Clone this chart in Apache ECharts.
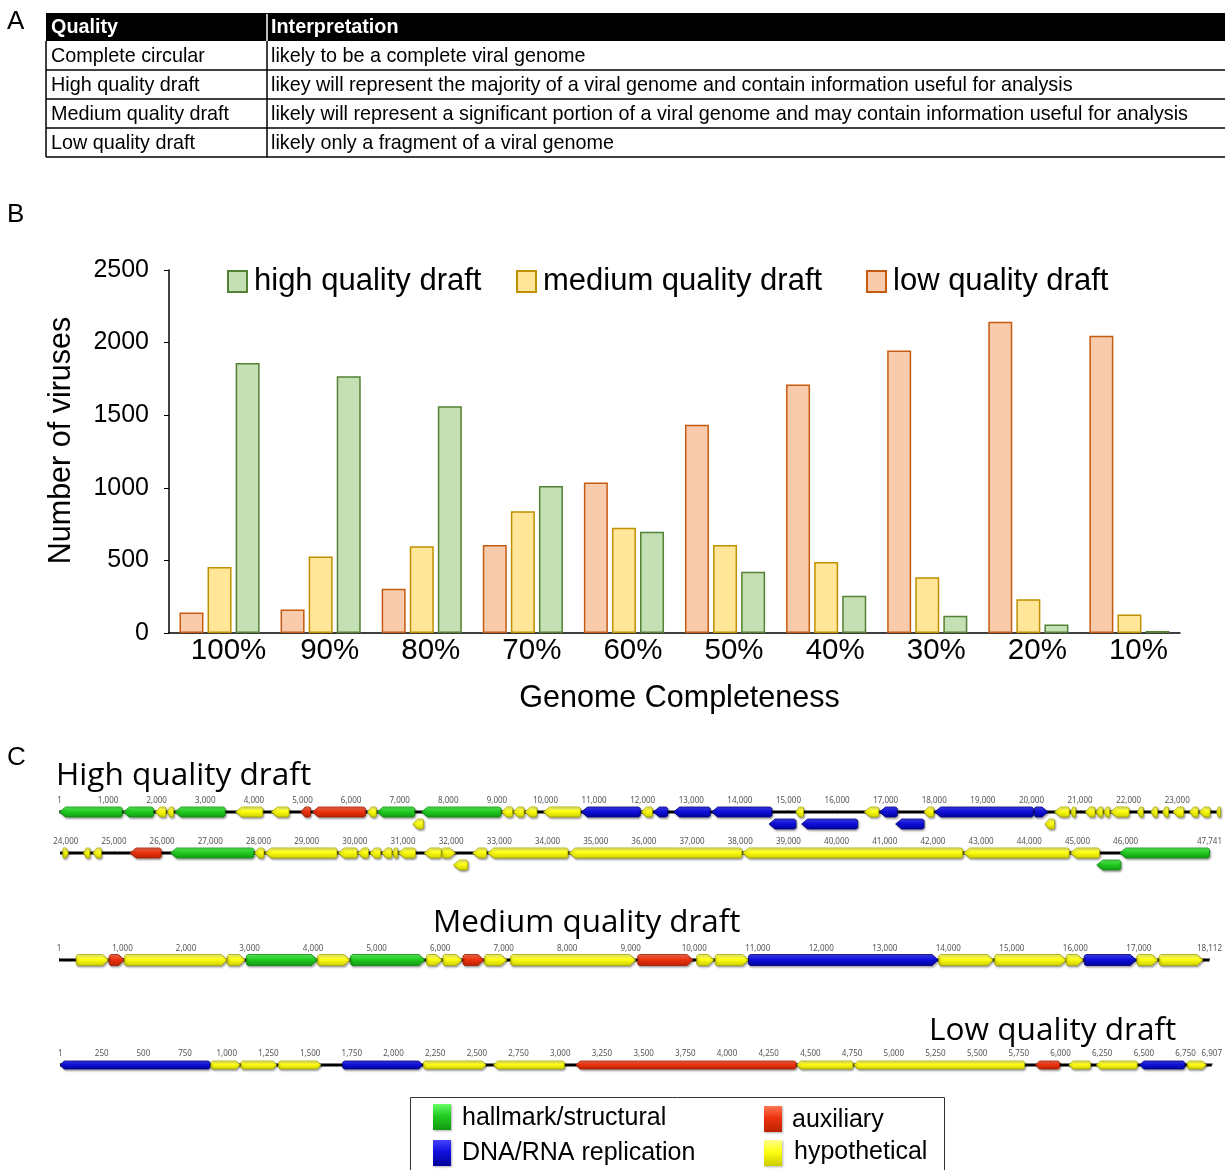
<!DOCTYPE html>
<html>
<head>
<meta charset="utf-8">
<script src="https://cdn.jsdelivr.net/npm/echarts@6/dist/echarts.min.js"></script>
<style>
  html, body { margin: 0; padding: 0; background: #fff; }
  #main { width: 1225px; height: 1170px; }
</style>
</head>
<body>
<div id="main"></div>
<script>
// ---- Panel A: quality table ----
const tableHeader = ['Quality', 'Interpretation'];
const qualityNames = ['Complete circular', 'High quality draft', 'Medium quality draft', 'Low quality draft'];
const interpretations = [
  'likely to be a complete viral genome',
  'likey will represent the majority of a viral genome and contain information useful for analysis',
  'likely will represent a significant portion of a viral genome and may contain information useful for analysis',
  'likely only a fragment of a viral genome'
];

// ---- Panel B: completeness histogram ----
const categories = ['100%', '90%', '80%', '70%', '60%', '50%', '40%', '30%', '20%', '10%'];
const lowDraft = [142, 162, 304, 606, 1036, 1434, 1711, 1946, 2143, 2047];
const mediumDraft = [455, 526, 597, 839, 725, 606, 489, 384, 233, 128];
const highDraft = [1860, 1768, 1562, 1013, 698, 421, 256, 119, 59, 14];
const yTicks = [0, 500, 1000, 1500, 2000, 2500];

// ---- Panel C: genome maps ----
// gene: [start, end, strand (1 fwd / -1 rev), category, lane]
// category: 0 hallmark/structural, 1 DNA/RNA replication, 2 auxiliary, 3 hypothetical
const highLength = 47741;
const highSplit = 23890;
const highGenes = [
  [1, 1290, -1, 0, 0], [1315, 1935, -1, 0, 0], [1975, 2190, -1, 3, 0], [2215, 2350, -1, 3, 0],
  [2375, 3410, -1, 0, 0], [3625, 4185, -1, 3, 0], [4360, 4725, -1, 3, 0], [4965, 5165, -1, 2, 0],
  [5205, 6295, -1, 2, 0], [6335, 6520, -1, 3, 0], [6535, 7310, -1, 0, 0], [7270, 7490, -1, 3, 1],
  [7450, 9085, -1, 0, 0], [9100, 9325, -1, 3, 0], [9340, 9560, -1, 3, 0], [9580, 9825, -1, 3, 0],
  [9960, 10720, -1, 3, 0], [10740, 11950, -1, 1, 0], [11975, 12200, -1, 3, 0], [12220, 12515, -1, 1, 0],
  [12635, 13390, -1, 1, 0], [13420, 14660, -1, 1, 0], [14600, 15155, -1, 1, 1], [15150, 15310, -1, 3, 0],
  [15270, 16425, -1, 1, 1], [16560, 16860, -1, 3, 0], [16875, 17240, -1, 1, 0], [17205, 17790, -1, 1, 1],
  [17790, 17990, -1, 3, 0], [18010, 20040, -1, 1, 0], [20060, 20340, 1, 1, 0], [20275, 20475, -1, 3, 1],
  [20475, 20780, -1, 3, 0], [20810, 20910, -1, 3, 0], [21110, 21310, -1, 3, 0], [21330, 21470, -1, 3, 0],
  [21490, 21610, -1, 3, 0], [21625, 22010, -1, 3, 0], [22180, 22300, -1, 3, 0], [22460, 22595, -1, 3, 0],
  [22700, 22820, -1, 3, 0], [22915, 23135, -1, 3, 0], [23255, 23430, -1, 3, 0], [23455, 23675, -1, 3, 0],
  [23810, 23890, -1, 3, 0],
  [23940, 24055, 1, 3, 0], [24370, 24500, -1, 3, 0], [24565, 24740, -1, 3, 0], [25335, 25980, -1, 2, 0],
  [26175, 27905, -1, 0, 0], [27920, 28115, -1, 3, 0], [28140, 29630, -1, 3, 0], [29655, 30050, -1, 3, 0],
  [30065, 30285, -1, 3, 0], [30315, 30535, -1, 3, 0], [30560, 30770, -1, 3, 0], [30785, 30890, -1, 3, 0],
  [30905, 31260, -1, 3, 0], [31440, 31795, -1, 3, 0], [31810, 32090, 1, 3, 0], [32045, 32345, -1, 3, 1],
  [32445, 32735, -1, 3, 0], [32760, 34425, -1, 3, 0], [34450, 38035, -1, 3, 0], [38050, 42620, -1, 3, 0],
  [42640, 44830, -1, 3, 0], [44855, 45460, -1, 3, 0], [45400, 45900, -1, 0, 1], [45880, 47741, -1, 0, 0]
];
const mediumLength = 18112;
const mediumGenes = [
  [270, 780, 1, 3, 0], [790, 1030, 1, 2, 0], [1030, 2650, 1, 3, 0], [2650, 2930, 1, 3, 0],
  [2950, 4070, 1, 0, 0], [4070, 4580, 1, 3, 0], [4590, 5760, 1, 0, 0], [5785, 6030, 1, 3, 0],
  [6045, 6345, 1, 3, 0], [6360, 6690, 1, 2, 0], [6700, 7050, 1, 3, 0], [7110, 9080, 1, 3, 0],
  [9110, 9980, 1, 2, 0], [10040, 10310, 1, 3, 0], [10330, 10855, 1, 3, 0], [10855, 13840, 1, 1, 0],
  [13850, 14710, 1, 3, 0], [14730, 15855, 1, 3, 0], [15855, 16125, 1, 3, 0], [16140, 16960, 1, 1, 0],
  [16970, 17300, 1, 3, 0], [17320, 18010, 1, 3, 0]
];
const lowLength = 6907;
const lowGenes = [
  [1, 900, -1, 1, 0], [905, 1080, 1, 3, 0], [1085, 1300, 1, 3, 0], [1310, 1565, 1, 3, 0],
  [1695, 2175, 1, 1, 0], [2180, 2555, 1, 3, 0], [2600, 3025, -1, 3, 0], [3095, 4414, -1, 2, 0],
  [4418, 4755, -1, 3, 0], [4760, 5785, -1, 3, 0], [5850, 5995, -1, 2, 0], [6050, 6180, -1, 3, 0],
  [6215, 6460, -1, 3, 0], [6475, 6745, -1, 1, 0], [6760, 6875, 1, 3, 0]
];
const highTicksRow1 = [1, 1000, 2000, 3000, 4000, 5000, 6000, 7000, 8000, 9000, 10000, 11000, 12000,
  13000, 14000, 15000, 16000, 17000, 18000, 19000, 20000, 21000, 22000, 23000];
const highTicksRow2 = [24000, 25000, 26000, 27000, 28000, 29000, 30000, 31000, 32000, 33000, 34000, 35000,
  36000, 37000, 38000, 39000, 40000, 41000, 42000, 43000, 44000, 45000, 46000, 47741];
const mediumTicks = [1, 1000, 2000, 3000, 4000, 5000, 6000, 7000, 8000, 9000, 10000, 11000, 12000,
  13000, 14000, 15000, 16000, 17000, 18112];
const lowTicks = [1, 250, 500, 750, 1000, 1250, 1500, 1750, 2000, 2250, 2500, 2750, 3000, 3250, 3500,
  3750, 4000, 4250, 4500, 4750, 5000, 5250, 5500, 5750, 6000, 6250, 6500, 6750, 6907];
const geneCategoryNames = ['hallmark/structural', 'DNA/RNA replication', 'auxiliary', 'hypothetical'];

// gene fill gradients (top -> bottom) and outlines per category
const geneColors = [
  { stops: ['#66ff66', '#22cc22', '#119911'], line: '#0f8a0f' },
  { stops: ['#4444ff', '#1111dd', '#000099'], line: '#00007a' },
  { stops: ['#ff7755', '#ee3311', '#bb2200'], line: '#a01c00' },
  { stops: ['#ffff88', '#ffff11', '#cccc00'], line: '#a3a300' }
];
function gradient(c) {
  return {
    type: 'linear', x: 0, y: 0, x2: 0, y2: 1,
    colorStops: [{ offset: 0, color: c.stops[0] }, { offset: 0.45, color: c.stops[1] }, { offset: 1, color: c.stops[2] }]
  };
}

function geneRenderer(source, height, headLen) {
  return function (params, api) {
    const g = source[params.dataIndex];
    const p0 = api.coord([g[0], g[4]]);
    const p1 = api.coord([g[1], g[4]]);
    const x0 = p0[0], x1 = p1[0], y = p0[1];
    const w = x1 - x0;
    const h = height / 2;
    const head = Math.min(headLen, w * 0.45);
    const bev = Math.min(1.5, w * 0.1);
    let pts;
    if (g[2] > 0) {
      pts = [[x0 + bev, y - h], [x1 - head, y - h], [x1, y], [x1 - head, y + h], [x0 + bev, y + h], [x0, y + h - bev], [x0, y - h + bev]];
    } else {
      pts = [[x0, y], [x0 + head, y - h], [x1 - bev, y - h], [x1, y - h + bev], [x1, y + h - bev], [x1 - bev, y + h], [x0 + head, y + h]];
    }
    const c = geneColors[g[3]];
    return {
      type: 'polygon',
      shape: { points: pts },
      style: {
        fill: gradient(c), stroke: c.line, lineWidth: 0.8,
        shadowBlur: 2, shadowOffsetX: 1, shadowOffsetY: 1.5, shadowColor: 'rgba(0,0,0,0.35)'
      }
    };
  };
}

const highRow1 = highGenes.filter(g => g[0] < highSplit);
const highRow2 = highGenes.filter(g => g[0] >= highSplit);

const fmt = v => (v === 1 ? '1' : v.toLocaleString('en-US'));

function mapXAxis(gridIndex, min, max, ticks) {
  return {
    type: 'value', gridIndex, min, max, position: 'top',
    axisLine: { show: false },
    splitLine: { show: false },
    axisTick: { show: true, length: 2, customValues: ticks, lineStyle: { color: '#999', width: 1 } },
    axisLabel: {
      show: true, customValues: ticks, formatter: fmt, margin: 1, hideOverlap: false,
      fontSize: 8, color: '#555', fontFamily: 'Noto Sans'
    }
  };
}
function mapYAxis(gridIndex) {
  return { type: 'value', gridIndex, min: -0.5, max: 1.5, inverse: true, show: false };
}
function backbone(idx, from, to) {
  return {
    type: 'line', xAxisIndex: idx, yAxisIndex: idx, data: [[from, 0], [to, 0]],
    symbol: 'none', silent: true, z: 2, lineStyle: { color: '#000', width: 3 }
  };
}
function geneSeries(idx, source, height, head) {
  return {
    type: 'custom', xAxisIndex: idx, yAxisIndex: idx, clip: false, z: 3, silent: true,
    data: source.map(g => [g[0], g[1], g[4]]),
    encode: { x: [0, 1], y: 2 },
    renderItem: geneRenderer(source, height, head)
  };
}

// ---- graphic: panel letters, table, map titles and category legend ----
const FONT = '"Liberation Sans", Arial, sans-serif';
const graphics = [];
function txt(x, y, s, size, opts) {
  graphics.push({
    type: 'text', x, y, silent: true,
    style: Object.assign({ text: s, fontSize: size, fontFamily: FONT, fill: '#000', textVerticalAlign: 'middle', textAlign: 'left' }, opts || {})
  });
}
function hline(x1, x2, y, w) {
  graphics.push({ type: 'line', silent: true, shape: { x1, y1: y, x2, y2: y }, style: { stroke: '#000', lineWidth: w } });
}
function vline(x, y1, y2, w, color) {
  graphics.push({ type: 'line', silent: true, shape: { x1: x, y1, x2: x, y2 }, style: { stroke: color || '#000', lineWidth: w } });
}

txt(7, 22, 'A', 26);
txt(7, 215, 'B', 26);
txt(7, 758, 'C', 26);

// table
const tLeft = 46, tRight = 1225, tCol = 267, tTop = 13, tHead = 41, rowH = 29;
graphics.push({ type: 'rect', silent: true, shape: { x: tLeft, y: tTop, width: tRight - tLeft, height: tHead - tTop }, style: { fill: '#000' } });
vline(tCol, tTop + 1, tHead, 1.5, '#fff');
txt(51, 28, tableHeader[0], 19.8, { fill: '#fff', fontWeight: 'bold' });
txt(271, 28, tableHeader[1], 19.8, { fill: '#fff', fontWeight: 'bold' });
qualityNames.forEach((q, i) => {
  const cy = tHead + rowH * i + rowH / 2 + 1.5;
  txt(51, cy, q, 19.8);
  txt(271, cy, interpretations[i], 19.8);
  hline(tLeft, tRight, tHead + rowH * (i + 1), 1.5);
});
vline(tLeft, tHead, tHead + rowH * 4, 1.5);
vline(tCol, tHead, tHead + rowH * 4, 1.5);

// map titles
const TFONT = '"Open Sans", "Noto Sans", sans-serif';
txt(56, 776, 'High quality draft', 31.6, { fontFamily: TFONT });
txt(433, 923, 'Medium quality draft', 31.4, { fontFamily: TFONT });
txt(929, 1031, 'Low quality draft', 31.6, { fontFamily: TFONT });

// category legend box
graphics.push({ type: 'rect', silent: true, shape: { x: 410.5, y: 1097.5, width: 534, height: 80 }, style: { fill: 'none', stroke: '#333', lineWidth: 1 } });
const legendPos = [[433, 1104, 462, 1118], [433, 1140, 462, 1153], [764, 1106, 792, 1120], [764, 1140, 794, 1152]];
[0, 1, 2, 3].forEach(k => {
  const p = legendPos[k];
  graphics.push({
    type: 'rect', silent: true, shape: { x: p[0], y: p[1], width: 18, height: 26 },
    style: { fill: gradient(geneColors[k]), shadowBlur: 2, shadowOffsetX: 1, shadowOffsetY: 1, shadowColor: 'rgba(0,0,0,0.3)' }
  });
  txt(p[2], p[3], geneCategoryNames[k], 25);
});

const chart = echarts.init(document.getElementById('main'), null, { renderer: 'canvas' });

function barLegend(name, left) {
  return {
    left, top: 266, padding: 0, itemWidth: 19, itemHeight: 21,
    textStyle: { fontSize: 31, color: '#000', fontFamily: FONT, padding: [0, 0, 0, 2] },
    data: [{ name, icon: 'rect' }]
  };
}

const barBorder = 1.5;
const option = {
  animation: false,
  backgroundColor: '#fff',
  textStyle: { fontFamily: FONT },
  legend: [
    barLegend('high quality draft', 227),
    barLegend('medium quality draft', 516),
    barLegend('low quality draft', 866)
  ],
  grid: [
    { left: 169, right: 45, top: 270, height: 363 },
    { left: 59.5, width: 1161, top: 806, height: 24 },
    { left: 60, width: 1159, top: 847, height: 24 },
    { left: 59, width: 1160, top: 954, height: 24 },
    { left: 60, width: 1162, top: 1059, height: 24 }
  ],
  xAxis: [
    {
      type: 'category', gridIndex: 0, data: categories,
      axisLine: { lineStyle: { color: '#000', width: 1.5 } },
      axisTick: { show: false },
      axisLabel: { fontSize: 29.5, color: '#000', margin: 3, fontFamily: FONT, padding: [0, 0, 0, 18] },
      name: 'Genome Completeness', nameLocation: 'middle', nameGap: 50,
      nameTextStyle: { fontSize: 30.5, color: '#000', fontFamily: FONT, padding: [0, 0, 0, 10] }
    },
    mapXAxis(1, 0, highSplit, highTicksRow1),
    mapXAxis(2, 23880, highLength, highTicksRow2),
    mapXAxis(3, 0, mediumLength, mediumTicks),
    mapXAxis(4, 0, lowLength, lowTicks)
  ],
  yAxis: [
    {
      type: 'value', gridIndex: 0, min: 0, max: 2500, interval: 500,
      axisLine: { show: true, lineStyle: { color: '#000', width: 1.5 } },
      axisTick: { show: true, length: 5, lineStyle: { color: '#000', width: 1 } },
      axisLabel: { fontSize: 25, color: '#000', margin: 20, fontFamily: FONT, customValues: yTicks, formatter: v => String(v) },
      splitLine: { show: false },
      name: 'Number of viruses', nameLocation: 'middle', nameGap: 92, nameRotate: 90,
      nameTextStyle: { fontSize: 30.5, color: '#000', fontFamily: FONT, padding: [0, 0, 0, 22] }
    },
    mapYAxis(1), mapYAxis(2), mapYAxis(3), mapYAxis(4)
  ],
  series: [
    {
      name: 'low quality draft', type: 'bar', xAxisIndex: 0, yAxisIndex: 0, data: lowDraft,
      barWidth: 24, barGap: '17%',
      itemStyle: { color: '#F8CBAD', borderColor: '#C55A11', borderWidth: barBorder }
    },
    {
      name: 'medium quality draft', type: 'bar', xAxisIndex: 0, yAxisIndex: 0, data: mediumDraft,
      barWidth: 24, barGap: '17%',
      itemStyle: { color: '#FFE699', borderColor: '#BF9000', borderWidth: barBorder }
    },
    {
      name: 'high quality draft', type: 'bar', xAxisIndex: 0, yAxisIndex: 0, data: highDraft,
      barWidth: 24, barGap: '17%',
      itemStyle: { color: '#C5E0B4', borderColor: '#538135', borderWidth: barBorder }
    },
    backbone(1, 0, highSplit),
    backbone(2, 23880, highLength),
    backbone(3, 0, mediumLength),
    backbone(4, 0, lowLength),
    geneSeries(1, highRow1, 10, 6),
    geneSeries(2, highRow2, 10, 6),
    geneSeries(3, mediumGenes, 11, 6),
    geneSeries(4, lowGenes, 8, 4)
  ],
  graphic: graphics
};
chart.setOption(option);
</script>
</body>
</html>
